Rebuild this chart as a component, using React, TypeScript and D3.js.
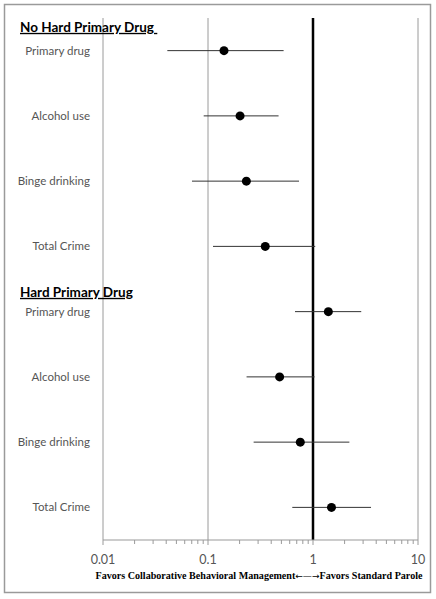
import React from "react";
import * as d3 from "d3";

const groupTitles = ["No Hard Primary Drug ", "Hard Primary Drug"];
const outcomes = ["Primary drug", "Alcohol use", "Binge drinking", "Total Crime"];
const estimates = [0.142, 0.202, 0.232, 0.351, 1.4, 0.481, 0.757, 1.5];
const lowerCI = [0.041, 0.091, 0.0704, 0.1116, 0.674, 0.233, 0.272, 0.635];
const upperCI = [0.525, 0.47, 0.736, 1.05, 2.88, 1.035, 2.22, 3.57];
const tickValues = [0.01, 0.1, 1, 10];
const tickLabels = ["0.01", "0.1", "1", "10"];
const axisTitleLeft = "Favors Collaborative Behavioral Management";
const axisTitleArrows = "\u2190\u2014\u2192";
const axisTitleRight = "Favors Standard Parole";

const W = 436;
const H = 599;
const plot = { left: 103, right: 418, top: 18, bottom: 540 };
const headerOffsets = [-23.5, -19.5];

export default function App() {
  const x = d3.scaleLog().domain([0.01, 10]).range([plot.left, plot.right]);
  const rows = d3.range(estimates.length);
  const y = d3.scaleBand<number>().domain(rows).range([plot.top, plot.bottom]);
  const yc = (i: number) => (y(i) as number) + y.bandwidth() / 2;
  const labels = rows.map((i) => outcomes[i % outcomes.length]);
  const minor = d3.range(-2, 1).flatMap((e) => d3.range(2, 10).map((m) => m * Math.pow(10, e)));
  const labelFont = "Lato, 'Open Sans', sans-serif";

  return (
    <svg
      width={W}
      height={H}
      style={{ position: "absolute", left: 0, top: 0 }}
      xmlns="http://www.w3.org/2000/svg"
    >
      <rect x={0} y={0} width={W} height={H} fill="#fff" />
      <rect x={4.5} y={4.5} width={426} height={588} fill="none" stroke="#9a9a9a" strokeWidth={1.5} />
      {tickValues.map((v) => (
        <line
          key={"g" + v}
          x1={x(v)}
          x2={x(v)}
          y1={plot.top}
          y2={plot.bottom}
          stroke={v === 1 ? "#000" : "#9a9a9a"}
          strokeWidth={v === 1 ? 2.5 : 1}
        />
      ))}
      <line x1={plot.left} x2={plot.right} y1={plot.bottom} y2={plot.bottom} stroke="#9a9a9a" strokeWidth={1.2} />
      {tickValues.map((v) => (
        <line key={"t" + v} x1={x(v)} x2={x(v)} y1={plot.bottom} y2={plot.bottom + 5} stroke="#9a9a9a" strokeWidth={1} />
      ))}
      {minor.map((v, i) => (
        <line key={"m" + i} x1={x(v)} x2={x(v)} y1={plot.bottom} y2={plot.bottom + 4} stroke="#9a9a9a" strokeWidth={1} />
      ))}
      {tickValues.map((v, i) => (
        <text
          key={"l" + v}
          x={x(v)}
          y={564}
          textAnchor="middle"
          fontFamily={labelFont}
          fontSize={12.5}
          fill="#555"
        >
          {tickLabels[i]}
        </text>
      ))}
      <text
        x={259}
        y={579}
        textAnchor="middle"
        fontFamily="'Liberation Serif', 'DejaVu Serif', serif"
        fontWeight="bold"
        fontSize={10}
        fill="#000"
        textLength={327}
        lengthAdjust="spacingAndGlyphs"
      >
        {axisTitleLeft}
        <tspan fontFamily="'DejaVu Sans', sans-serif" fontWeight="normal" fontSize={9}>
          {axisTitleArrows}
        </tspan>
        {axisTitleRight}
      </text>
      {rows.map((i) => (
        <g key={"r" + i}>
          <line x1={x(lowerCI[i])} x2={x(upperCI[i])} y1={yc(i)} y2={yc(i)} stroke="#333" strokeWidth={1} />
          <circle cx={x(estimates[i])} cy={yc(i)} r={4.5} fill="#000" />
          <text
            x={90}
            y={yc(i)}
            dy="0.35em"
            textAnchor="end"
            fontFamily={labelFont}
            fontSize={11.5}
            fill="#555"
          >
            {labels[i]}
          </text>
        </g>
      ))}
      {groupTitles.map((t, g) => {
        const ty = yc(g * outcomes.length) + headerOffsets[g];
        return (
          <text
            key={"h" + g}
            x={20}
            y={ty}
            dy="0.35em"
            fontFamily={labelFont}
            fontWeight="bold"
            fontSize={13.5}
            fill="#000"
            textDecoration="underline"
            style={{ whiteSpace: "pre" }}
          >
            {t}
          </text>
        );
      })}
    </svg>
  );
}
